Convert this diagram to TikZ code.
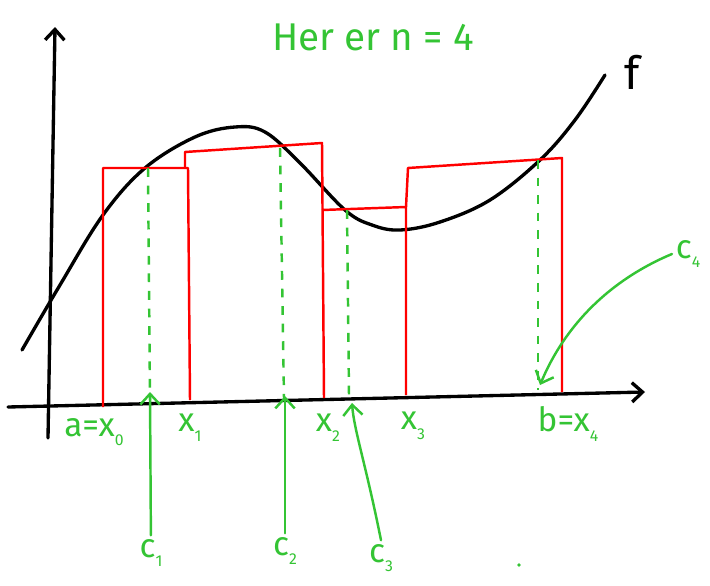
\documentclass[tikz,border=0pt]{standalone}
\usepackage{fontspec}
\setmainfont{Fira Sans}
\usetikzlibrary{arrows.meta}
\definecolor{pen}{RGB}{52,196,52}
\newcommand\idx[1]{\raisebox{-.55ex}{\small #1}}

\begin{document}
\begin{tikzpicture}[x=0.02cm,y=-0.02cm,
    >={Straight Barb[length=6pt,width=11pt]},
    axis/.style={line width=1.9pt,line cap=round,->},
    graph/.style={line width=1.9pt,line cap=round},
    box/.style={red,line width=1.4pt,line join=round},
    guide/.style={pen,line width=1.4pt,dash pattern=on 5pt off 5pt},
    pointer/.style={pen,line width=1.4pt,line cap=round,->,
        >={Straight Barb[length=6pt,width=11pt]}},
    tag/.style={pen,font=\fontsize{19}{22}\selectfont,inner sep=2pt}]
    \useasboundingbox (0,0) rectangle (710,585);
    % axes
    \coordinate (xs) at (8,407);
    \coordinate (xe) at (645,392);
    \coordinate (ys) at (48,438);
    \coordinate (ye) at (55,27);
    \draw[axis] (xs) -- (xe);
    \draw[axis] (ys) -- (ye);
    % the function
    \draw[graph] plot[smooth,tension=0.6] coordinates {(22,350) (60,285)
      (103,215) (145,168) (195,137) (235,127) (265,132) (300,163) (345,210)
      (372,225) (400,230) (440,222) (490,200) (540,160) (575,120) (605,75)};
    \node[font=\fontsize{26}{28}\selectfont,inner sep=0pt] (f) at (632,72) {f};
    % rectangles
    \draw[box] (103,407) -- (103,168) -- (188,168) -- (190,400);
    \draw[box] (185,168) -- (185,152) -- (322,143) -- (324,398);
    \draw[box] (322,210) -- (406,207) -- (406,395);
    \draw[box] (406,207) -- (408,168) -- (562,158) -- (562,392);
    % sample points
    \draw[guide] (148,168) -- (150,400);
    \draw[guide] (280,148) -- (284,398);
    \draw[guide] (347,210) -- (349,395);
    \draw[guide] (538,160) -- (538,390);
    % labels
    \node[tag,font=\fontsize{22}{24}\selectfont] (title) at (373,37) {Her er n = 4};
    \node[tag] (x0) at (94,432) {a=x\idx{0}};
    \node[tag] (x1) at (190,428) {x\idx{1}};
    \node[tag] (x2) at (328,428) {x\idx{2}};
    \node[tag] (x3) at (413,426) {x\idx{3}};
    \node[tag] (x4) at (568,424) {b=x\idx{4}};
    \node[tag] (c1) at (151,553) {c\idx{1}};
    \node[tag] (c2) at (285,551) {c\idx{2}};
    \node[tag] (c3) at (381,558) {c\idx{3}};
    \node[tag] (c4) at (688,254) {c\idx{4}};
    \coordinate (p1) at (150,392);
    \coordinate (p2) at (285,396);
    \coordinate (p3) at (352,403);
    \coordinate (p4) at (540,385);
    \draw[pointer] (c1) -- (p1);
    \draw[pointer] (c2) -- (p2);
    \draw[pointer] (c3.north) .. controls (366,465) and (354,430) .. (p3);
    \draw[pointer] (c4.west) .. controls (610,280) and (565,325) .. (p4);
    \fill[pen] (519,565) circle (1.8);
\end{tikzpicture}
\end{document}
